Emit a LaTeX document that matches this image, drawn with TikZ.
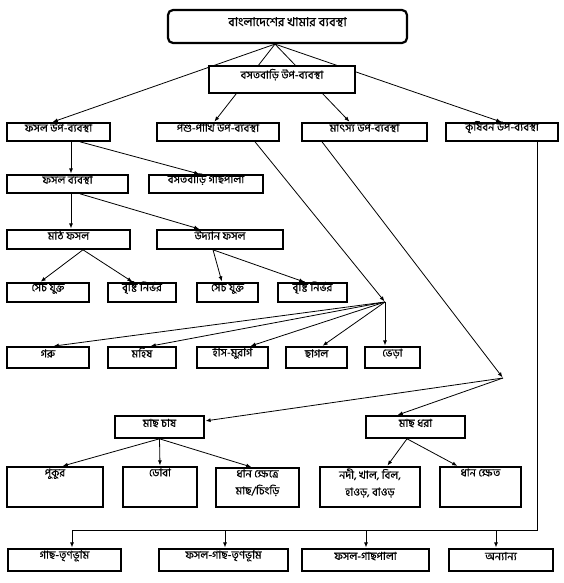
\documentclass[tikz,border=0pt]{standalone}
\usepackage{fontspec}
\newfontfamily\bn[Script=Bengali, FakeBold=0.6]{Hind Siliguri}
\usetikzlibrary{fit,arrows.meta,calc}
\begin{document}
\begin{tikzpicture}[x=1pt,y=-1pt,
  box/.style={draw, line width=1.6pt, inner sep=0pt, fill=white, font=\bn\fontsize{11}{12}\selectfont},
  topbox/.style={box, line width=2.2pt, rounded corners=5pt, font=\bn\fontsize{12.5}{14}\selectfont},
  txt/.style={inner sep=0pt, align=center, font=\bn\fontsize{11}{17}\selectfont},
  conn/.style={line width=0.8pt},
  arr/.style={conn, -{Latex[length=5pt,width=4pt]}, shorten >=0.8pt},
]
\useasboundingbox (0,0) rectangle (564,583);
% boxes
\node[topbox, fit={(168,10) (407,43)}] (top) {বাংলাদেশের খামার ব্যবস্থা};
\node[box, fit={(7,123) (110,141)}] (fu) {ফসল উপ-ব্যবস্থা};
\node[box, fit={(157,123) (279,141)}] (pp) {পশু-পাখি উপ-ব্যবস্থা};
\node[box, fit={(302,123) (427,141)}] (ms) {মাৎস্য উপ-ব্যবস্থা};
\node[box, fit={(446,123) (558,141)}] (kb) {কৃষিবন উপ-ব্যবস্থা};
\node[box, fit={(7,175) (128,193)}] (fb) {ফসল ব্যবস্থা};
\node[box, fit={(149,175) (263,193)}] (bg) {বসতবাড়ি গাছপালা};
\node[box, fit={(7,230) (130,249)}] (mf) {মাঠ ফসল};
\node[box, fit={(157,230) (283,249)}] (uf) {উদ্যান ফসল};
\node[box, fit={(7,283) (89,302)}] (s1) {সেচ যুক্ত};
\node[box, fit={(108,283) (176,302)}] (b1) {বৃষ্টি নির্ভর};
\node[box, fit={(197,283) (258,302)}] (s2) {সেচ যুক্ত};
\node[box, fit={(278,283) (347,302)}] (b2) {বৃষ্টি নির্ভর};
\node[box, fit={(7,347) (89,368)}] (goru) {গরু};
\node[box, fit={(108,347) (176,368)}] (mohish) {মহিষ};
\node[box, fit={(197,347) (268,368)}] (has) {হাঁস-মুরগি};
\node[box, fit={(286,347) (347,368)}] (chagol) {ছাগল};
\node[box, fit={(365,347) (420,368)}] (vera) {ভেড়া};
\node[box, fit={(115,416) (204,438)}] (mc) {মাছ চাষ};
\node[box, fit={(366,416) (465,438)}] (md) {মাছ ধরা};
\node[box, fit={(7,467) (103,507)}] (pukur) {};
\node[box, fit={(123,467) (197,507)}] (doba) {};
\node[box, fit={(216,468) (299,507)}] (dhan1) {};
\node[box, fit={(320,467) (420,507)}] (nodi) {};
\node[box, fit={(440,467) (521,507)}] (dhan2) {};
\node[txt, anchor=north] (pukurT) at ([yshift=-2pt]pukur.north) {পুকুর};
\node[txt, anchor=north] (dobaT) at ([yshift=-2pt]doba.north) {ডোবা};
\node[txt, anchor=north] (dhan1T) at ([yshift=-2pt]dhan1.north) {ধান ক্ষেত্রে\\মাছ/চিংড়ি};
\node[txt, anchor=north] (nodiT) at ([yshift=-2pt]nodi.north) {নদী, খাল, বিল,\\হাওড়, বাওড়};
\node[txt, anchor=north] (dhan2T) at ([yshift=-2pt]dhan2.north) {ধান ক্ষেত};
\node[box, fit={(8,549) (121,571)}] (g1) {গাছ-তৃণভূমি};
\node[box, fit={(159,549) (288,571)}] (g2) {ফসল-গাছ-তৃণভূমি};
\node[box, fit={(302,549) (429,571)}] (g3) {ফসল-গাছপালা};
\node[box, fit={(449,549) (553,571)}] (g4) {অন্যান্য};
% junctions
\coordinate (J1) at (385,302);
\coordinate (J2) at (503,378);
\coordinate (busR) at (537,530);
\coordinate (bus1) at (72,530);
\coordinate (bus2) at (225,530);
\coordinate (bus3) at (366,530);
\coordinate (bus4) at (496,530);
% connectors from top
\draw[arr] ([xshift=-12.5pt]top.south) -- ([xshift=-6.5pt]fu.north);
\draw[arr] ([xshift=-12.5pt]top.south) -- ([xshift=-4pt]pp.north);
\draw[arr] ([xshift=-12.5pt]top.south) -- ([xshift=-14.5pt]ms.north);
\draw[arr] ([xshift=-12.5pt]top.south) -- (kb.north);
% crop subsystem
\draw[arr] ([xshift=12.5pt]fu.south) -- ([xshift=3.5pt]fb.north);
\draw[arr] ([xshift=21.5pt]fu.south) -- ([xshift=-6pt]bg.north);
\draw[arr] ([xshift=3.5pt]fb.south) -- ([xshift=2.5pt]mf.north);
\draw[arr] ([xshift=12.5pt]fb.south) -- ([xshift=-20pt]uf.north);
\draw[arr] ([xshift=14.5pt]mf.south) -- ([xshift=-8pt]s1.north);
\draw[arr] ([xshift=14.5pt]mf.south) -- ([xshift=-9pt]b1.north);
\draw[arr] ([xshift=-7pt]uf.south) -- ([xshift=-5.5pt]s2.north);
\draw[arr] ([xshift=-7pt]uf.south) -- ([xshift=-7.5pt]b2.north);
% livestock
\draw[arr] ([xshift=37pt]pp.south) -- (J1);
\draw[arr] (J1) -- ([xshift=5pt]goru.north);
\draw[arr] (J1) -- ([xshift=8pt]mohish.north);
\draw[arr] (J1) -- ([xshift=17.5pt]has.north);
\draw[arr] (J1) -- ([xshift=5.5pt]chagol.north);
\draw[arr] (J1) -- ([xshift=-7.5pt]vera.north);
% fisheries
\draw[arr] ([xshift=-42.5pt]ms.south) -- (J2);
\draw[arr] (J2) -- ([yshift=6pt]mc.east);
\draw[arr] (J2) -- ([xshift=-18.5pt]md.north);
\draw[arr] (mc.south) -- ([xshift=7pt]pukur.north);
\draw[arr] (mc.south) -- (doba.north);
\draw[arr] (mc.south) -- ([xshift=-5.5pt]dhan1.north);
\draw[arr] ([xshift=-8.5pt]md.south) -- ([xshift=17pt]nodi.north);
\draw[arr] ([xshift=-8.5pt]md.south) -- ([xshift=-22.5pt]dhan2.north);
% agroforestry
\draw[conn] ([xshift=35pt]kb.south) -- (busR) -- (bus1);
\draw[arr] (bus1) -- (bus1 |- g1.north);
\draw[arr] (bus2) -- (bus2 |- g2.north);
\draw[arr] (bus3) -- (bus3 |- g3.north);
\draw[arr] (bus4) -- (bus4 |- g4.north);
% overlay box
\node[box, fit={(209,66) (355,93)}] (bas) {বসতবাড়ি উপ-ব্যবস্থা};
\end{tikzpicture}
\end{document}
